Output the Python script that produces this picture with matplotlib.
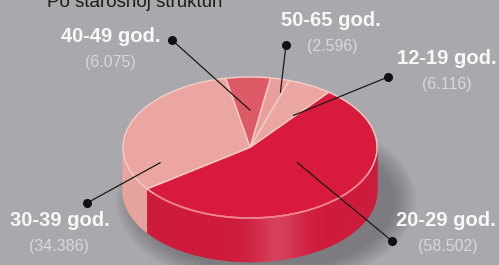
import numpy as np
import matplotlib.pyplot as plt
from matplotlib.patches import Polygon, Ellipse
from matplotlib.colors import to_rgb

# data, counter-clockwise order around the pie
groups = ['12-19 god.', '50-65 god.', '40-49 god.', '30-39 god.', '20-29 god.']
counts = [6116, 2596, 6075, 34386, 58502]

top_colors = ['#eca6a1', '#e9a09d', '#de5a66', '#eca6a1', '#d81a3d']
side_colors = ['#e59c96', '#e39590', '#d24c58', '#e9a59d', '#cf1a3b']

# layout (pixels, y down)
bg = '#a9a9ad'
cx, cy, a, b, depth = 250, 147.5, 127, 70.5, 44
start = 51.6

label_pos = [(447, 59), (331, 21), (111, 37), (60, 221), (446, 221)]
num_pos = [(447, 84), (332, 46), (110, 62), (59, 247), (448, 247)]
dot_pos = [(388, 77), (286, 45), (172, 40), (87, 203), (392, 241)]
anchor = [(53, 0.57), (73, 0.82), (90, 0.53), (197, 0.74), (-30, 0.43)]


def pt(theta, r=1.0, dz=0.0):
    t = np.radians(theta)
    return cx + a * r * np.cos(t), cy - b * r * np.sin(t) + dz


def shade(color, theta):
    # soft light band on the front wall
    c = np.array(to_rgb(color))
    w = 0.16 * np.exp(-((theta - 283) / 11.0) ** 2)
    return tuple(c + (1 - c) * w)


fig = plt.figure(figsize=(4.99, 2.65), dpi=100)
fig.patch.set_facecolor(bg)
ax = fig.add_axes([0, 0, 1, 1])
ax.set_xlim(0, 499)
ax.set_ylim(265, 0)
ax.axis('off')
ax.set_facecolor(bg)

# slice angles from the data
total = sum(counts)
sweeps = [360.0 * v / total for v in counts]
edges = start + np.concatenate([[0], np.cumsum(sweeps)])
spans = list(zip(edges[:-1], edges[1:]))

# soft shadow under the pie
for k in range(8):
    ax.add_patch(Ellipse((cx + 16, cy + depth + 9), 2 * a + 4 + 6 * k, 2 * b + 5 * k,
                         facecolor='#45454b', edgecolor='none', alpha=0.065, zorder=1))

# front walls
for i, (t0, t1) in enumerate(spans):
    for off in (0, 360):
        lo, hi = max(t0, 180 + off), min(t1, 360 + off)
        if lo >= hi:
            continue
        th = np.linspace(lo, hi, max(2, int((hi - lo) / 1.5) + 1))
        for j in range(len(th) - 1):
            x0, y0 = pt(th[j])
            x1, y1 = pt(th[j + 1])
            col = shade(side_colors[i], (th[j] + th[j + 1]) / 2 % 360)
            ax.add_patch(Polygon([(x0, y0), (x1, y1), (x1, y1 + depth), (x0, y0 + depth)],
                                 closed=True, facecolor=col, edgecolor=col, lw=0.4, zorder=2))

# top face
for i, (t0, t1) in enumerate(spans):
    th = np.linspace(t0, t1, max(3, int(t1 - t0) + 2))
    xs, ys = pt(th)
    verts = [(cx, cy)] + list(zip(xs, ys))
    ax.add_patch(Polygon(verts, closed=True, facecolor=top_colors[i],
                         edgecolor='#f4cdc8', lw=1.0, joinstyle='round', zorder=3))

# light rim along the front edge of the big slice
th = np.linspace(222, 338, 120)
xs, ys = pt(th)
ax.plot(xs, ys, color='#ef7a88', lw=1.3, alpha=0.9, zorder=4, solid_capstyle='round')

# leader lines, dots and labels
for i, g in enumerate(groups):
    ang, r = anchor[i]
    ex, ey = pt(ang, r)
    dx, dy = dot_pos[i]
    ax.plot([dx, ex], [dy, ey], color='#1a1a1a', lw=0.9, zorder=5)
    ax.plot(dx, dy, 'o', color='#111111', ms=5.5, zorder=6)
    ax.text(label_pos[i][0], label_pos[i][1], g, ha='center', va='center',
            fontsize=14.5, fontweight='bold', color='#f8f8f8',
            family='Liberation Sans', zorder=7)
    num = '({:,})'.format(counts[i]).replace(',', '.')
    ax.text(num_pos[i][0], num_pos[i][1], num, ha='center', va='center',
            fontsize=11.5, color='#d8d8dc', family='Liberation Sans', zorder=7)

# title, cut at the top edge as in the source
ax.text(135, 7, 'Po starosnoj strukturi', ha='center', va='baseline',
        fontsize=13.5, color='#1c1c1c', family='Liberation Sans', zorder=7)

fig.savefig('out.png', dpi=100, facecolor=bg)
